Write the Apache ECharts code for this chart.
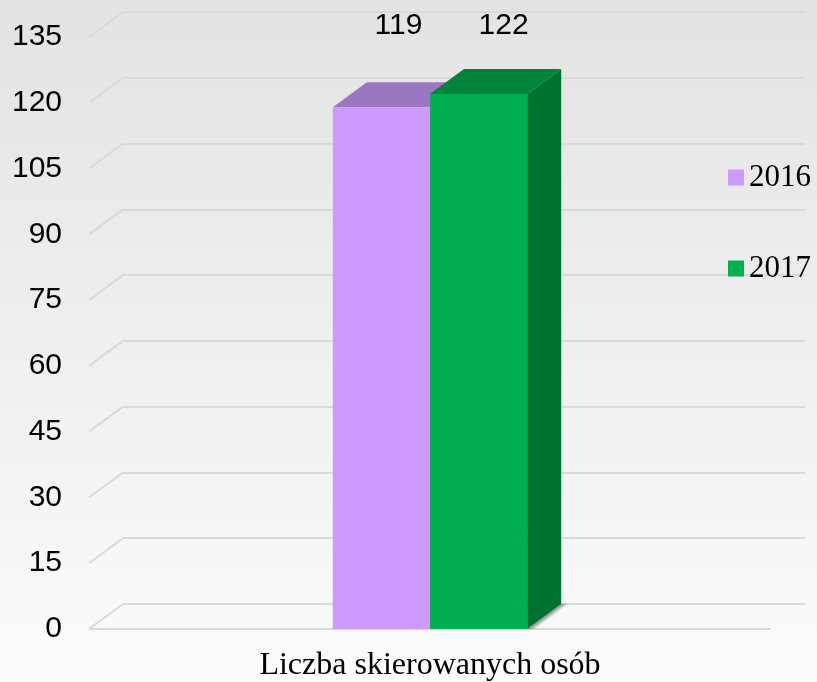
<!DOCTYPE html>
<html>
<head>
<meta charset="utf-8">
<script src="https://cdn.jsdelivr.net/npm/echarts@6/dist/echarts.min.js"></script>
<style>
html,body{margin:0;padding:0;}
#chart{width:817px;height:682px;}
</style>
</head>
<body>
<div id="chart"></div>
<script>
const categories = ['Liczba skierowanych osób'];
const seriesNames = ['2016', '2017'];
const values2016 = [119];
const values2017 = [122];
const yTicks = [0, 15, 30, 45, 60, 75, 90, 105, 120, 135];

const DX = 34, DY = -25;
const BAR_FRAC = 0.1425;
const LABEL_SHIFT = [17, 25];
const faceColors = [
  { front: '#cc99ff', top: '#9b76c1', side: '#8a66ae' },
  { front: '#00b050', top: '#00843b', side: '#00722f' }
];

function barRenderer(idx) {
  return function (params, api) {
    const v = api.value(1);
    const top = api.coord([api.value(0), v]);
    const base = api.coord([api.value(0), 0]);
    const band = api.size([1, 0])[0];
    const w = band * BAR_FRAC;
    const x0 = idx === 0 ? top[0] - w : top[0];
    const x1 = x0 + w;
    const yt = top[1], yb = base[1];
    const c = faceColors[idx];
    const labelY = api.coord([0, 135])[1] - 11;
    const mx = x1 + DX / 2, my = yb + DY / 2;
    return {
      type: 'group',
      children: [
        { type: 'polygon', shape: { points: [[x1, yb], [x1 + DX, yb + DY], [x1 + DX + 8, yb + DY], [x1 + 8, yb]] },
          style: { fill: { type: 'linear', global: true, x: mx, y: my, x2: mx + 3, y2: my + 4,
            colorStops: [{ offset: 0, color: 'rgba(0,0,0,0.45)' }, { offset: 1, color: 'rgba(0,0,0,0)' }] } } },
        { type: 'polygon', shape: { points: [[x1, yt], [x1 + DX, yt + DY], [x1 + DX, yb + DY], [x1, yb]] }, style: { fill: c.side } },
        { type: 'polygon', shape: { points: [[x0, yt], [x1, yt], [x1 + DX, yt + DY], [x0 + DX, yt + DY]] }, style: { fill: c.top } },
        { type: 'rect', shape: { x: x0, y: yt, width: w, height: yb - yt }, style: { fill: c.front } },
        { type: 'text', x: x0 + w / 2 + LABEL_SHIFT[idx], y: labelY,
          style: { text: String(v), fill: '#000', font: '30px "Liberation Sans", Arial, sans-serif', align: 'center', verticalAlign: 'middle' } }
      ]
    };
  };
}

const chart = echarts.init(document.getElementById('chart'));
chart.setOption({
  animation: false,
  backgroundColor: { type: 'linear', x: 0, y: 0, x2: 0, y2: 1,
    colorStops: [{ offset: 0, color: '#e3e3e3' }, { offset: 1, color: '#fbfbfb' }] },
  legend: {
    data: seriesNames,
    orient: 'vertical',
    left: 728, top: 162, padding: 0,
    itemWidth: 16, itemHeight: 16, itemGap: 60,
    icon: 'rect',
    textStyle: { fontFamily: '"Liberation Serif", "Times New Roman", serif', fontSize: 31, color: '#000' }
  },
  grid: [
    { left: 89, right: 46, top: 37, bottom: 53 },
    { left: 89 + DX, right: 46 - DX, top: 37 + DY, bottom: 53 - DY }
  ],
  xAxis: [
    { type: 'category', gridIndex: 0, data: categories,
      axisLine: { show: false }, axisTick: { show: false }, splitLine: { show: false },
      axisLabel: { margin: 21, fontFamily: '"Liberation Serif", "Times New Roman", serif', fontSize: 32, color: '#000' } },
    { type: 'category', gridIndex: 1, data: categories, show: false }
  ],
  yAxis: [
    { type: 'value', gridIndex: 0, min: 0, max: 135, interval: 15,
      axisLine: { show: false }, axisTick: { show: false }, splitLine: { show: false },
      axisLabel: { margin: 27, fontFamily: '"Liberation Sans", Arial, sans-serif', fontSize: 30, color: '#000' } },
    { type: 'value', gridIndex: 1, min: 0, max: 135, interval: 15,
      axisLine: { show: false }, axisTick: { show: false }, axisLabel: { show: false },
      splitLine: { show: true, lineStyle: { color: '#d9d9d9', width: 2 } } }
  ],
  series: [
    {
      type: 'custom', name: 'walls', xAxisIndex: 0, yAxisIndex: 0, silent: true,
      data: yTicks.map(v => [0, v]),
      renderItem: function (params, api) {
        const cs = params.coordSys;
        const y = api.coord([0, api.value(1)])[1];
        const children = [
          { type: 'line', shape: { x1: cs.x, y1: y, x2: cs.x + DX, y2: y + DY }, style: { stroke: '#d9d9d9', lineWidth: 2 } }
        ];
        if (api.value(1) === 0) {
          children.push({ type: 'line', shape: { x1: cs.x, y1: y, x2: cs.x + cs.width, y2: y }, style: { stroke: '#d9d9d9', lineWidth: 2 } });
        }
        return { type: 'group', children: children };
      }
    },
    {
      type: 'custom', name: seriesNames[0], xAxisIndex: 0, yAxisIndex: 0,
      itemStyle: { color: faceColors[0].front },
      data: categories.map((c, i) => [i, values2016[i]]),
      renderItem: barRenderer(0)
    },
    {
      type: 'custom', name: seriesNames[1], xAxisIndex: 0, yAxisIndex: 0,
      itemStyle: { color: faceColors[1].front },
      data: categories.map((c, i) => [i, values2017[i]]),
      renderItem: barRenderer(1)
    }
  ]
});
</script>
</body>
</html>
